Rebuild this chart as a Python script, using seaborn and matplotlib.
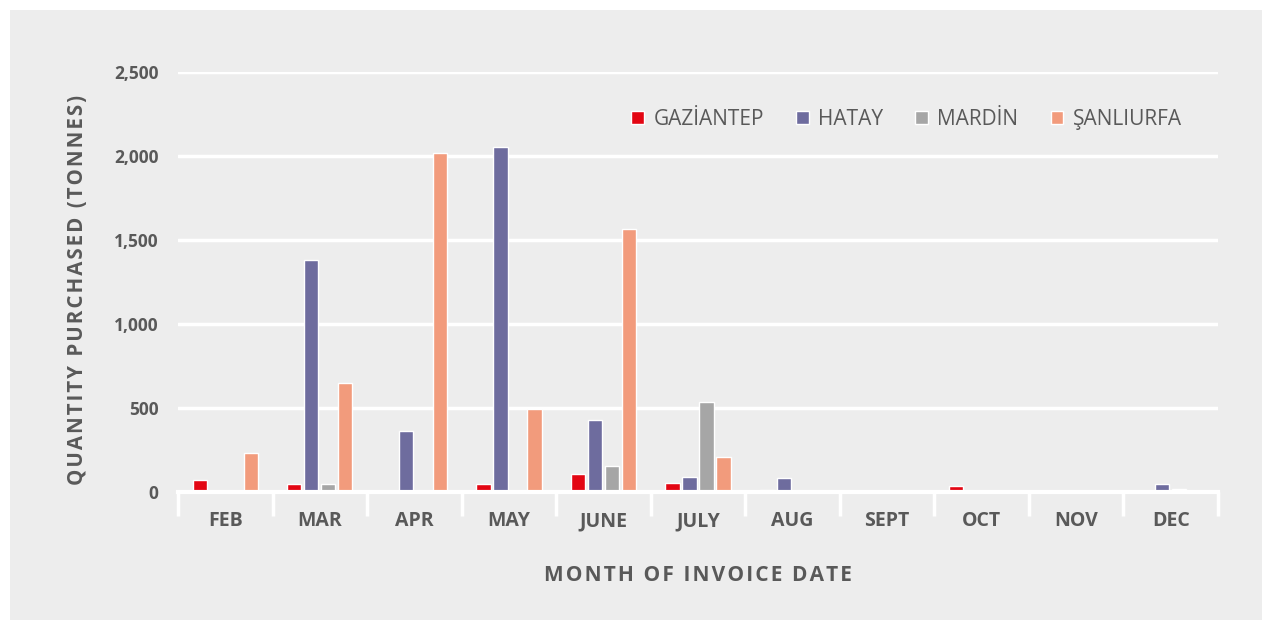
import numpy as np
import pandas as pd
import matplotlib
matplotlib.use("Agg")
import matplotlib.pyplot as plt
import seaborn as sns
from matplotlib.patches import Rectangle

# data (tonnes)
months = ["FEB", "MAR", "APR", "MAY", "JUNE", "JULY", "AUG", "SEPT", "OCT", "NOV", "DEC"]
provinces = ["GAZİANTEP", "HATAY", "MARDİN", "ŞANLIURFA"]
gaziantep = [74, 50, 5, 50, 110, 55, 14, 8, 34, 0, 0]
hatay = [0, 1380, 363, 2055, 428, 88, 82, 0, 0, 0, 48]
mardin = [0, 50, 0, 0, 152, 538, 0, 0, 0, 0, 20]
sanliurfa = [233, 650, 2015, 492, 1565, 210, 0, 0, 0, 0, 0]
colors = ["#E30613", "#6E6C9E", "#A6A6A6", "#F29B7C"]

df = pd.DataFrame({
    "month": months * 4,
    "province": np.repeat(provinces, len(months)),
    "qty": gaziantep + hatay + mardin + sanliurfa,
})

sns.set_theme(style="white")
plt.rcParams["font.family"] = ["Open Sans", "DejaVu Sans"]

BG = "#EDEDED"
TXT = "#595959"


def spaced(s, sep="\u200a"):
    return sep.join(s)


fig = plt.figure(figsize=(12.72, 6.3), dpi=100, facecolor="white")
fig.patches.append(Rectangle((10 / 1272, 10 / 630), 1252 / 1272, 610 / 630,
                             transform=fig.transFigure, facecolor=BG,
                             edgecolor="none", zorder=-10))
ax = fig.add_axes([178 / 1272, 1 - 492 / 630, 1040 / 1272, 420 / 630])
ax.set_facecolor(BG)

sns.barplot(data=df, x="month", y="qty", hue="province", order=months,
            hue_order=provinces, palette=colors, width=0.72, gap=0.16,
            saturation=1, ax=ax, legend=True)

ax.set_ylim(0, 2500)
ax.set_xlim(-0.5, len(months) - 0.5)
ax.set_yticks(np.arange(0, 2501, 500))
ax.set_yticklabels([f"{v:,}" for v in range(0, 2501, 500)])
ax.yaxis.grid(True, color="white", linewidth=2.5)
ax.set_axisbelow(True)

for side in ["top", "right", "left"]:
    ax.spines[side].set_visible(False)
ax.spines["bottom"].set_color("white")
ax.spines["bottom"].set_linewidth(3)
ax.spines["bottom"].set_zorder(3)

# white separators between months
ax.set_xticks(np.arange(-0.5, len(months)), minor=True)
ax.tick_params(axis="x", which="minor", bottom=True, length=17, width=2.5,
               color="white", direction="out")
ax.tick_params(axis="x", which="major", bottom=False, length=0, pad=14,
               labelsize=14, labelcolor=TXT)
ax.tick_params(axis="y", length=0, pad=14, labelsize=12.5, labelcolor=TXT)
for lab in ax.get_xticklabels() + ax.get_yticklabels():
    lab.set_fontweight("bold")

ax.set_xlabel(spaced("MONTH OF INVOICE DATE"), fontsize=15,
              fontweight="bold", color=TXT, labelpad=24)
ax.set_ylabel(spaced("QUANTITY PURCHASED (TONNES)"), fontsize=14.8,
              fontweight="bold", color=TXT)
ax.yaxis.set_label_coords(-0.087, 0.481)

handles, _ = ax.get_legend_handles_labels()
leg = ax.legend(handles, provinces, ncol=4,
                frameon=False, loc="upper right", bbox_to_anchor=(0.983, 0.957),
                handlelength=0.6, handleheight=0.6, handletextpad=0.45,
                columnspacing=1.55, fontsize=15)
for t in leg.get_texts():
    t.set_color(TXT)

fig.savefig("out.png", dpi=100, facecolor="white")
